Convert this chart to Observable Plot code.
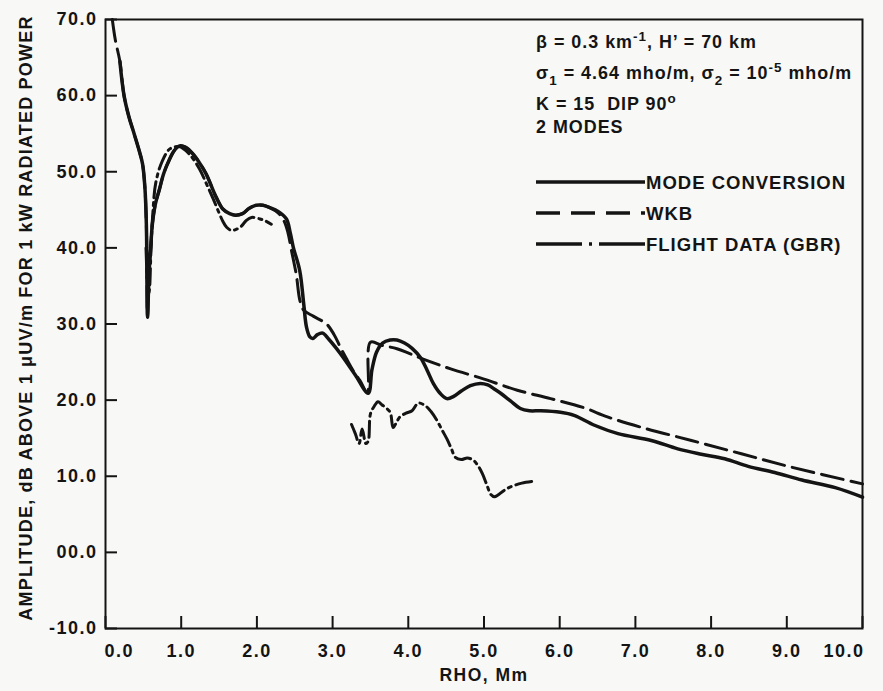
<!DOCTYPE html>
<html>
<head>
<meta charset="utf-8">
<script src="https://cdn.jsdelivr.net/npm/d3@7"></script>
<script src="https://cdn.jsdelivr.net/npm/@observablehq/plot@0.6"></script>
<style>
  html, body { margin:0; padding:0; background:#f8f8f6; }
  #chart svg { display:block; }
  #chart svg text { letter-spacing: 1.5px; }
  #chart svg g.ann text { letter-spacing: 1px; }
</style>
</head>
<body>
<div id="chart"></div>
<script>
// ---------------- data ----------------
const xTicks = [0, 1, 2, 3, 4, 5, 6, 7, 8, 9, 10];
const xTickLabels = ["0.0", "1.0", "2.0", "3.0", "4.0", "5.0", "6.0", "7.0", "8.0", "9.0", "10.0"];
const yTicks = [-10, 0, 10, 20, 30, 40, 50, 60, 70];
const yTickLabels = ["-10.0", "00.0", "10.0", "20.0", "30.0", "40.0", "50.0", "60.0", "70.0"];

const xLabel = "RHO, Mm";
const yLabel = "AMPLITUDE, dB ABOVE 1 \u03bcUV/m FOR 1 kW RADIATED POWER";
const seriesNames = ["MODE CONVERSION", "WKB", "FLIGHT DATA (GBR)"];

// MODE CONVERSION (solid)
const modeRho = [0.19, 0.245, 0.31, 0.378, 0.45, 0.49, 0.52, 0.54, 0.555, 0.575, 0.60, 0.62, 0.66, 0.71, 0.77, 0.84, 0.91, 0.98,
  1.06, 1.15, 1.24, 1.33, 1.46, 1.55, 1.64, 1.72, 1.81, 1.90, 1.99, 2.08, 2.17, 2.28, 2.39, 2.44, 2.48, 2.566, 2.62, 2.655,
  2.70, 2.74, 2.80, 2.87, 2.95, 3.05, 3.14, 3.30, 3.47, 3.52, 3.58, 3.66, 3.76, 3.85, 3.95, 4.05, 4.16, 4.25, 4.33, 4.42,
  4.51, 4.60, 4.70, 4.82, 4.95, 5.05, 5.13, 5.22, 5.35, 5.48, 5.60, 5.75, 6.01, 6.19, 6.46, 6.77, 7.21, 7.56, 7.87, 8.18,
  8.49, 8.84, 9.20, 9.64, 10.0];
const modeAmp = [64.5, 60.0, 57.2, 55.0, 52.6, 51.0, 48.0, 43.0, 30.9, 36.5, 40.5, 43.2, 45.8, 47.6, 49.8, 51.5, 52.8, 53.4,
  53.2, 52.4, 51.2, 49.7, 46.7, 45.1, 44.5, 44.3, 44.5, 45.2, 45.6, 45.6, 45.3, 44.8, 43.8, 42.0, 40.1, 37.0, 32.5, 29.6,
  28.3, 28.1, 28.6, 28.8, 28.0, 26.8, 25.6, 23.3, 20.9, 24.0, 26.3, 27.5, 27.9, 27.9, 27.5, 26.8, 25.6, 23.9, 22.2, 20.9,
  20.2, 20.5, 21.2, 21.9, 22.2, 22.0, 21.5, 20.9, 19.9, 18.9, 18.6, 18.6, 18.4, 18.0, 16.7, 15.6, 14.7, 13.6, 12.9, 12.3,
  11.3, 10.5, 9.5, 8.5, 7.25];

// WKB (dashed)
const wkbRho = [0.09, 0.13, 0.19, 0.245, 0.31, 0.378, 0.45, 0.49, 0.52, 0.54, 0.555, 0.575, 0.60, 0.62, 0.66, 0.71, 0.77, 0.84,
  0.91, 0.98, 1.06, 1.15, 1.24, 1.33, 1.46, 1.55, 1.64, 1.72, 1.81, 1.90, 1.99, 2.08, 2.17, 2.28, 2.36, 2.41, 2.46, 2.52,
  2.57, 2.62, 2.75, 2.92, 3.02, 3.10, 3.18, 3.27, 3.36, 3.46, 3.50, 3.65, 3.85, 4.02, 4.25, 4.56, 4.99, 5.44, 5.88, 6.32,
  6.63, 7.07, 7.74, 8.40, 9.06, 10.0];
const wkbAmp = [70.0, 67.3, 64.5, 60.0, 57.2, 55.0, 52.6, 51.0, 48.0, 43.0, 30.9, 36.5, 40.5, 43.2, 45.8, 47.6, 49.8, 51.5,
  52.8, 53.4, 53.2, 52.4, 51.2, 49.7, 46.7, 45.1, 44.5, 44.3, 44.5, 45.2, 45.6, 45.6, 45.3, 44.6, 43.5, 42.0, 39.5, 36.5,
  33.0, 31.8, 31.0, 30.0, 28.6, 27.0, 25.5, 23.9, 22.6, 21.0, 27.6, 27.2, 26.75, 26.1, 25.2, 24.1, 22.8, 21.3, 20.2, 19.0,
  17.8, 16.45, 14.7, 12.95, 11.2, 9.0];

// FLIGHT DATA (GBR) (dash-dot), two measured stretches
const flightNearRho = [0.535, 0.55, 0.565, 0.58, 0.60, 0.625, 0.665, 0.75, 0.85, 0.97, 1.10, 1.24, 1.33, 1.42, 1.50, 1.55,
  1.60, 1.66, 1.72, 1.79, 1.86, 1.93, 2.04, 2.12, 2.19];
const flightNearAmp = [40.0, 36.0, 33.8, 34.5, 39.5, 44.5, 48.6, 51.4, 53.0, 53.3, 52.4, 50.4, 48.5, 46.5, 44.6, 43.5,
  42.7, 42.3, 42.4, 42.8, 43.6, 44.0, 43.8, 43.5, 43.1];
const flightFarRho = [3.25, 3.30, 3.35, 3.39, 3.44, 3.47, 3.50, 3.55, 3.60, 3.65, 3.69, 3.76, 3.80, 3.85, 3.89, 3.97, 4.05,
  4.13, 4.22, 4.30, 4.38, 4.45, 4.51, 4.57, 4.62, 4.70, 4.78, 4.86, 4.92, 4.98, 5.04, 5.09, 5.14, 5.18, 5.26, 5.35, 5.50, 5.66];
const flightFarAmp = [16.8, 15.6, 14.3, 16.2, 14.3, 14.6, 18.2, 19.2, 19.8, 19.4, 19.1, 18.4, 16.4, 17.2, 17.8, 18.3, 18.6,
  19.6, 19.3, 18.5, 17.3, 16.0, 14.9, 13.6, 12.5, 12.2, 12.4, 12.1, 11.4, 10.3, 8.8, 7.6, 7.3, 7.5, 8.1, 8.6, 9.1, 9.35];

// ---------------- tables ----------------
const mode = modeRho.map((x, i) => ({x, y: modeAmp[i]}));
const wkb = wkbRho.map((x, i) => ({x, y: wkbAmp[i]}));
const flight = [
  ...flightNearRho.map((x, i) => ({x, y: flightNearAmp[i], seg: "near"})),
  ...flightFarRho.map((x, i) => ({x, y: flightFarAmp[i], seg: "far"}))
];

const INK = "#141414";
const FONT = "'Liberation Sans', Arial, Helvetica, sans-serif";
const W = 883, H = 691, ML = 105, MR = 21, MT = 19, MB = 63;
const plotW = W - ML - MR, plotH = H - MT - MB;
const TICK = 12;
const xLab = d => xTickLabels[xTicks.indexOf(d)];
const xFirst = xTicks.slice(0, 1), xMid = xTicks.slice(1, -1), xLast = xTicks.slice(-1);

const chart = Plot.plot({
  width: W, height: H,
  marginLeft: ML, marginRight: MR, marginTop: MT, marginBottom: MB,
  x: {domain: [0, 10]},
  y: {domain: [-10, 70]},
  style: {fontFamily: FONT, fontWeight: "bold", fontSize: "18px", color: INK, background: "#f8f8f6"},
  marks: [
    Plot.frame({stroke: INK, strokeWidth: 2}),
    Plot.tickX(xTicks, {x: d => d, insetTop: plotH - TICK, stroke: INK, strokeWidth: 2}),
    Plot.tickY(yTicks, {y: d => d, insetRight: plotW - TICK, stroke: INK, strokeWidth: 2}),
    Plot.axisX(xFirst, {tickSize: 0, tickPadding: 16, label: null, tickFormat: xLab, textAnchor: "start", dx: -1}),
    Plot.axisX(xMid, {tickSize: 0, tickPadding: 16, label: null, tickFormat: xLab}),
    Plot.axisX(xLast, {tickSize: 0, tickPadding: 16, label: null, tickFormat: xLab, textAnchor: "end", dx: 2}),
    Plot.axisY(yTicks, {tickSize: 0, tickPadding: 8, label: null, tickFormat: d => yTickLabels[yTicks.indexOf(d)]}),
    Plot.text([xLabel], {text: d => d, frameAnchor: "bottom", dy: 47, lineAnchor: "middle", textAnchor: "middle",
      fontSize: 17.5, fontWeight: "bold", fill: INK}),
    Plot.text([yLabel], {text: d => d, frameAnchor: "left", rotate: -90, dx: -79, dy: -6, lineAnchor: "middle",
      textAnchor: "middle", fontSize: 18, fontWeight: "bold", fill: INK}),
    Plot.line(wkb, {x: "x", y: "y", stroke: INK, strokeWidth: 3, strokeDasharray: "22,8", curve: "catmull-rom"}),
    Plot.line(flight, {x: "x", y: "y", z: "seg", stroke: INK, strokeWidth: 3, strokeDasharray: "16,5,3,5", curve: "catmull-rom"}),
    Plot.line(mode, {x: "x", y: "y", stroke: INK, strokeWidth: 3.5, curve: "catmull-rom"})
  ]
});
document.getElementById("chart").appendChild(chart);
// y-axis title letter spacing slightly tighter than tick labels
d3.select(chart).selectAll("text").filter(function () { return this.textContent === yLabel; })
  .style("letter-spacing", "1.2px");

// ---------------- annotation + legend ----------------
const svg = d3.select(chart);
const ann = svg.append("g").attr("class", "ann").attr("font-family", FONT).attr("font-weight", "bold")
  .attr("fill", INK).attr("text-anchor", "start").style("white-space", "pre");

function richLine(y, parts, size) {
  const t = ann.append("text").attr("x", 536).attr("y", y).attr("font-size", size).attr("text-anchor", "start");
  let shift = 0;
  for (const [s, kind] of parts) {
    const target = kind === "sup" ? -7 : kind === "sub" ? 6 : 0;
    const ts = t.append("tspan").attr("dy", target - shift).text(s);
    if (kind) ts.attr("font-size", size * 0.75);
    shift = target;
  }
}
richLine(48, [["\u03b2 = 0.3 km"], ["-1", "sup"], [", H\u2019 = 70 km"]], 17.9);
richLine(79, [["\u03c3"], ["1", "sub"], [" = 4.64 mho/m, \u03c3"], ["2", "sub"], [" = 10"], ["-5", "sup"], [" mho/m"]], 17.9);
richLine(110, [["K = 15  DIP 90"], ["o", "sup"]], 17.9);
richLine(133, [["2 MODES"]], 17.9);

const legendY = [182, 213, 244];
const legendDash = [null, "24,11", "46,7,3,7"];
seriesNames.forEach((name, i) => {
  const ln = ann.append("line").attr("x1", 536).attr("x2", 645).attr("y1", legendY[i]).attr("y2", legendY[i])
    .attr("stroke", INK).attr("stroke-width", 3.5);
  if (legendDash[i]) ln.attr("stroke-dasharray", legendDash[i]);
  ann.append("text").attr("x", 646).attr("y", legendY[i] + 6.5).attr("font-size", 18.5).attr("text-anchor", "start").text(name);
});
</script>
</body>
</html>
